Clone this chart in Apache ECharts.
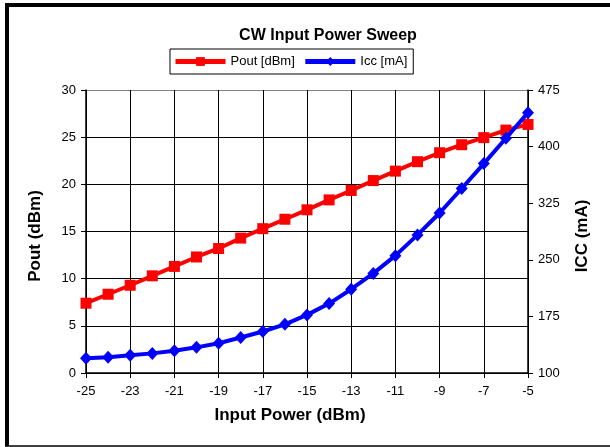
<!DOCTYPE html>
<html>
<head>
<meta charset="utf-8">
<script src="https://cdn.jsdelivr.net/npm/echarts@6/dist/echarts.min.js"></script>
<style>
  html, body {margin: 0; padding: 0; background: #fff;}
  #chart {width: 610px; height: 447px;}
</style>
</head>
<body>
<div id="chart"></div>
<script>
// 输入功率 (dBm)
const inputPower = [-25, -24, -23, -22, -21, -20, -19, -18, -17, -16, -15,
  -14, -13, -12, -11, -10, -9, -8, -7, -6, -5];
// Pout [dBm]
const pout = [7.4, 8.35, 9.3, 10.3, 11.3, 12.3, 13.2, 14.3, 15.3, 16.3, 17.3,
  18.35, 19.35, 20.4, 21.4, 22.4, 23.35, 24.2, 24.95, 25.75, 26.35];
// Icc [mA]
const icc = [119.5, 121, 123.5, 126, 129.5, 134, 139.5, 147, 155, 164.5, 177,
  192, 211, 232, 255.5, 283, 312, 344.5, 377.5, 411, 445];
const xTicks = {min: -25, max: -5, interval: 2};
const leftTicks = {min: 0, max: 30, interval: 5};
const rightTicks = {min: 100, max: 475, interval: 75};

const font = '"Liberation Sans", Arial, sans-serif';

function pairs(xs, ys) {
  return xs.map(function (x, i) { return [x, ys[i]]; });
}

// 水平网格线: 最上面一条是灰色
const hLineColors = [];
for (let v = leftTicks.min; v <= leftTicks.max; v += leftTicks.interval) {
  hLineColors.push(v === leftTicks.max ? '#808080' : '#000');
}

const nameStyle = {fontSize: 17, fontWeight: 'bold', color: '#000', fontFamily: font};
const labelStyle = {fontSize: 13, color: '#000', margin: 10, fontFamily: font};

const chart = echarts.init(document.getElementById('chart'));
chart.setOption({
  backgroundColor: '#fff',
  animation: false,
  textStyle: {fontFamily: font, color: '#000'},
  title: {
    text: 'CW Input Power Sweep',
    left: 323,
    top: 23,
    textAlign: 'center',
    textStyle: {fontSize: 16, fontWeight: 'bold', color: '#000', fontFamily: font}
  },
  legend: {
    left: 170,
    top: 49,
    itemWidth: 50,
    itemHeight: 11,
    itemGap: 8,
    padding: [6, 6, 6, 3],
    borderColor: '#000',
    borderWidth: 1,
    lineStyle: {width: 5},
    textStyle: {fontSize: 13, color: '#000', fontFamily: font},
    data: ['Pout [dBm]', 'Icc [mA]']
  },
  grid: {left: 86, right: 82, top: 90, bottom: 74},
  graphic: [
    {type: 'line', shape: {x1: 7, y1: 3, x2: 7, y2: 446}, style: {stroke: '#000', lineWidth: 4}},
    {type: 'line', shape: {x1: 5, y1: 5, x2: 610, y2: 5}, style: {stroke: '#000', lineWidth: 4}},
    {type: 'line', shape: {x1: 5, y1: 446, x2: 610, y2: 446}, style: {stroke: '#000', lineWidth: 1.5}}
  ],
  xAxis: {
    type: 'value',
    min: xTicks.min,
    max: xTicks.max,
    interval: xTicks.interval,
    name: 'Input Power (dBm)',
    nameLocation: 'middle',
    nameGap: 34,
    nameTextStyle: Object.assign({padding: [0, 34, 0, 0]}, nameStyle),
    axisLine: {onZero: false, lineStyle: {color: '#000', width: 1.5}},
    axisTick: {show: true, length: 5, lineStyle: {color: '#000'}},
    axisLabel: Object.assign({}, labelStyle, {margin: 12}),
    splitLine: {show: true, lineStyle: {color: '#000', width: 1}}
  },
  yAxis: [{
    type: 'value',
    position: 'left',
    min: leftTicks.min,
    max: leftTicks.max,
    interval: leftTicks.interval,
    name: 'Pout (dBm)',
    nameLocation: 'middle',
    nameRotate: 90,
    nameGap: 42,
    nameTextStyle: Object.assign({padding: [0, 9, 0, 0]}, nameStyle),
    axisLine: {show: true, lineStyle: {color: '#000', width: 1.5}},
    axisTick: {show: true, length: 5, lineStyle: {color: '#000'}},
    axisLabel: labelStyle,
    splitLine: {show: true, lineStyle: {color: hLineColors, width: 1}}
  }, {
    type: 'value',
    position: 'right',
    min: rightTicks.min,
    max: rightTicks.max,
    interval: rightTicks.interval,
    name: 'ICC (mA)',
    nameLocation: 'middle',
    nameRotate: 90,
    nameGap: 46,
    nameTextStyle: Object.assign({padding: [0, 9, 0, 0]}, nameStyle),
    axisLine: {show: true, lineStyle: {color: '#000', width: 1.5}},
    axisTick: {show: true, length: 5, lineStyle: {color: '#000'}},
    axisLabel: labelStyle,
    splitLine: {show: false}
  }],
  series: [{
    name: 'Pout [dBm]',
    type: 'line',
    yAxisIndex: 0,
    data: pairs(inputPower, pout),
    symbol: 'rect',
    symbolSize: 11,
    color: '#ff0000',
    lineStyle: {color: '#ff0000', width: 4},
    itemStyle: {color: '#ff0000'},
    z: 3
  }, {
    name: 'Icc [mA]',
    type: 'line',
    yAxisIndex: 1,
    data: pairs(inputPower, icc),
    symbol: 'diamond',
    symbolSize: [12, 13],
    color: '#0000ff',
    lineStyle: {color: '#0000ff', width: 4},
    itemStyle: {color: '#0000ff'},
    z: 4
  }]
});
</script>
</body>
</html>
